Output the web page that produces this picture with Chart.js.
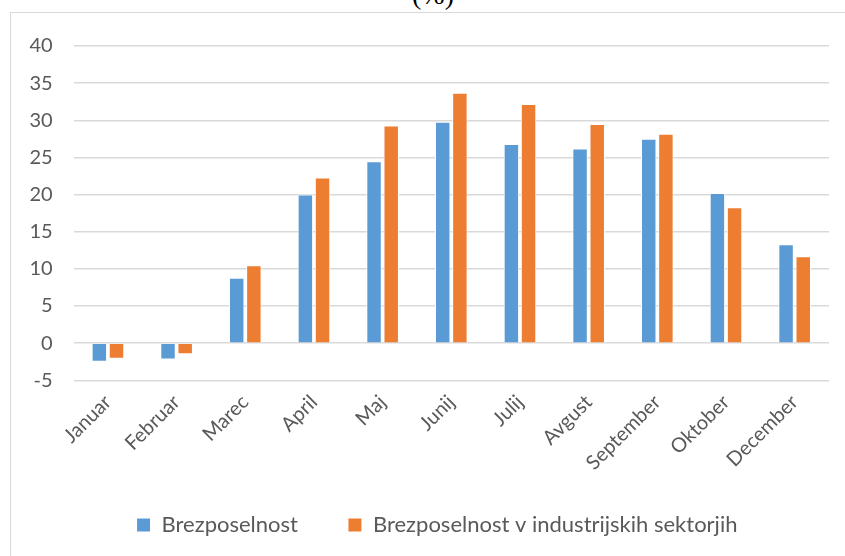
<!DOCTYPE html>
<html>
<head>
<meta charset="utf-8">
<script src="https://cdn.jsdelivr.net/npm/chart.js@4"></script>
<style>
  html, body { margin: 0; padding: 0; background: #fff; overflow: hidden; }
  #title { position: absolute; left: 383px; width: 100px; top: -19px; text-align: center;
           font: 28px "Liberation Serif", serif; color: #000; line-height: 28px; }
  #box { position: absolute; left: 10px; top: 12px; width: 834px; height: 543px;
         border-left: 1px solid #d9d9d9; border-top: 1px solid #d9d9d9; }
</style>
</head>
<body>
<div id="title">(%)</div>
<div id="box"><canvas id="myChart" width="834" height="543"></canvas></div>
<script>
const months = ["Januar", "Februar", "Marec", "April", "Maj", "Junij", "Julij", "Avgust", "September", "Oktober", "December"];
const brezposelnost = [-2.5, -2.2, 8.8, 20.0, 24.5, 29.8, 26.8, 26.2, 27.5, 20.2, 13.3];
const industrija = [-2.1, -1.5, 10.5, 22.3, 29.3, 33.7, 32.2, 29.5, 28.2, 18.3, 11.7];
const yTicks = [-5, 0, 5, 10, 15, 20, 25, 30, 35, 40];

const textColor = "#595959";
const fontFamily = "Lato, 'Noto Sans', sans-serif";

const ctx = document.getElementById("myChart").getContext("2d");
new Chart(ctx, {
    type: "bar",
    data: {
        labels: months,
        datasets: [
            {
                label: "Brezposelnost",
                data: brezposelnost,
                backgroundColor: "#5B9BD5",
                borderColor: "#ffffff",
                borderWidth: 1
            },
            {
                label: "Brezposelnost v industrijskih sektorjih",
                data: industrija,
                backgroundColor: "#ED7D31",
                borderColor: "#ffffff",
                borderWidth: 1
            }
        ]
    },
    options: {
        responsive: false,
        animation: false,
        layout: { padding: { top: 27.7, right: 0, bottom: 10, left: 18 } },
        plugins: {
            title: { display: false },
            tooltip: { enabled: false },
            legend: {
                position: "bottom",
                // empty legend title with negative padding only lifts the items
                title: { display: true, text: "", font: { size: 10 }, padding: { top: -40, bottom: 0 } },
                labels: {
                    color: textColor,
                    font: { family: fontFamily, size: 22 },
                    boxWidth: 14,
                    boxHeight: 14,
                    padding: 50
                }
            }
        },
        datasets: {
            bar: { categoryPercentage: 0.5, barPercentage: 0.9 }
        },
        scales: {
            x: {
                grid: { display: false },
                border: { display: false },
                ticks: {
                    color: textColor,
                    font: { family: fontFamily, size: 20 },
                    minRotation: 45,
                    maxRotation: 45,
                    padding: 2
                },
                afterFit: (scale) => { scale.height = 111.7; }
            },
            y: {
                min: -5,
                max: 40,
                afterBuildTicks: (scale) => { scale.ticks = yTicks.map(v => ({ value: v })); },
                grid: { color: "#d9d9d9", lineWidth: 1.5, drawTicks: false },
                border: { display: false },
                ticks: {
                    color: textColor,
                    font: { family: fontFamily, size: 20 },
                    padding: 21
                },
                afterFit: (scale) => { scale.width = 44.6; }
            },
            // empty right axis, only keeps space right of the plot
            y2: {
                position: "right",
                grid: { display: false },
                border: { display: false },
                ticks: { display: false },
                afterFit: (scale) => { scale.width = 16; }
            }
        }
    }
});
</script>
</body>
</html>
